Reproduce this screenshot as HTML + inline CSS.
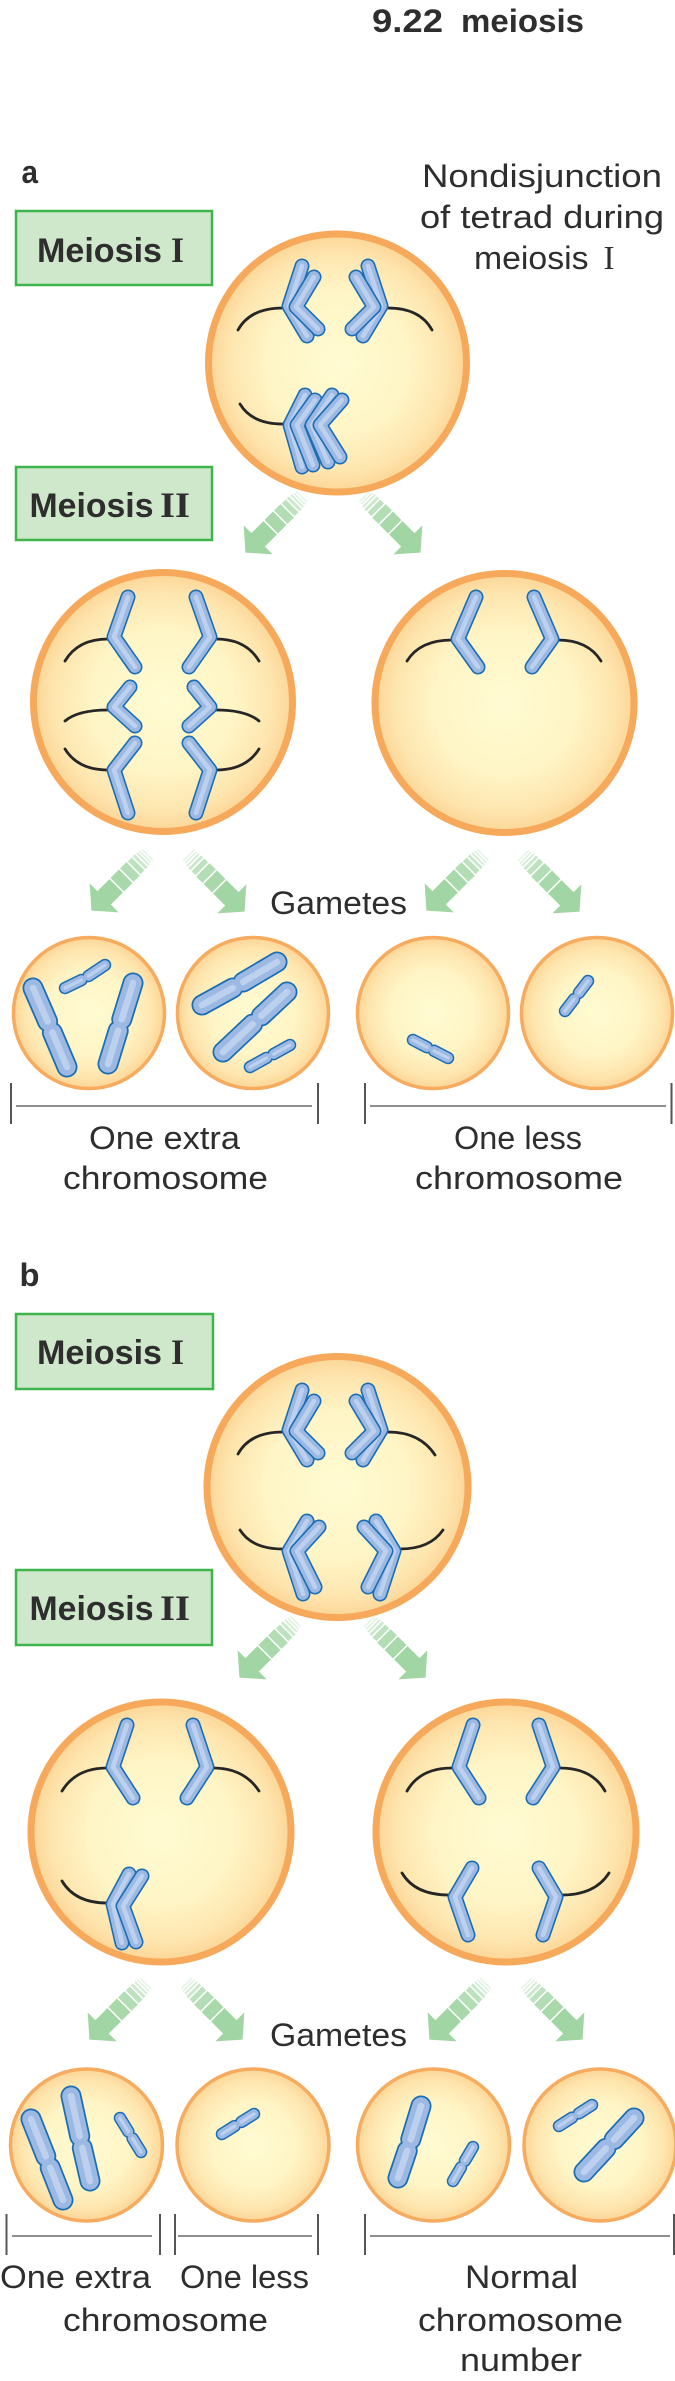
<!DOCTYPE html>
<html><head><meta charset="utf-8"><title>9.22 meiosis</title>
<style>
html,body{margin:0;padding:0;background:#fff;}
svg{display:block;}
.t{font-family:"Liberation Sans",sans-serif;fill:#2e2e2e;}
.b{font-weight:bold;}
.sf{font-family:"Liberation Serif",serif;fill:#2e2e2e;font-weight:bold;}
.sp{fill:none;stroke:#262626;stroke-width:2.8;stroke-linecap:round;}
.co{fill:none;stroke:#1b6db4;stroke-width:15;stroke-linecap:round;stroke-linejoin:round;}
.ci{fill:none;stroke:#9cb9e4;stroke-width:11.8;stroke-linecap:round;stroke-linejoin:round;}
.ch{fill:none;stroke:#bdd1ef;stroke-width:4.5;stroke-linecap:round;stroke-linejoin:round;}
.bo{fill:none;stroke:#1b6db4;stroke-width:21;stroke-linecap:round;}
.bi{fill:none;stroke:#9cb9e4;stroke-width:17.5;stroke-linecap:round;}
.bh{fill:none;stroke:#bdd1ef;stroke-width:6.5;stroke-linecap:round;}
.so{fill:none;stroke:#1b6db4;stroke-width:12.5;stroke-linecap:round;}
.si{fill:none;stroke:#9cb9e4;stroke-width:9.5;stroke-linecap:round;}
.sh{fill:none;stroke:#bdd1ef;stroke-width:3.2;stroke-linecap:round;}
.cell{fill:url(#cellg);stroke:#f7a95b;stroke-width:7;}
.gam{fill:url(#cellg);stroke:#f6ab5f;stroke-width:3.5;}
.box{fill:#cfe8cb;stroke:#3db54a;stroke-width:2.5;}
.tk{stroke:#555;stroke-width:2;}
.hl{stroke:#6a6a6a;stroke-width:1.6;}
</style></head>
<body>
<svg width="675" height="2381" viewBox="0 0 675 2381" xmlns="http://www.w3.org/2000/svg" xmlns:xlink="http://www.w3.org/1999/xlink">
<defs>
<radialGradient id="cellg" cx="50%" cy="50%" r="50%">
<stop offset="0" stop-color="#fffbd2"/>
<stop offset="0.55" stop-color="#fff5c6"/>
<stop offset="0.85" stop-color="#fee5ae"/>
<stop offset="1" stop-color="#fcd596"/>
</radialGradient>
<g id="arw" fill="#a2d5a4">
<polygon points="62,-20.5 80,0 62,20.5"/>
<rect x="45" y="-9.5" width="17.5" height="19"/>
<rect x="31.5" y="-9.5" width="12" height="19" opacity="0.92"/>
<rect x="21" y="-9.5" width="9" height="19" opacity="0.82"/>
<rect x="14" y="-9" width="5.5" height="18" opacity="0.7"/>
<rect x="9.5" y="-9" width="3" height="18" opacity="0.55"/>
<rect x="6" y="-8.5" width="2" height="17" opacity="0.45"/>
<rect x="3" y="-8" width="1.5" height="16" opacity="0.35"/>
<rect x="0" y="-7.5" width="1.5" height="15" opacity="0.28"/>
</g>
<!-- chromatid paths -->
<path id="a1" d="M302,266 L289,306 L307,336"/>
<path id="a2" d="M314,277 L296,307 L318,329"/>
<path id="a3" d="M368,266 L381,306 L363,336"/>
<path id="a4" d="M356,277 L374,307 L352,329"/>
<path id="a5" d="M305,395 L290,425 L302,467"/>
<path id="a6" d="M315,400 L297,425 L313,465"/>
<path id="a7" d="M332,395 L312,425 L328,462"/>
<path id="a8" d="M342,400 L320,425 L340,457"/>
<path id="b1" d="M128,597 L114,637 L135,667"/>
<path id="b2" d="M130,687 L114,707 L135,726"/>
<path id="b3" d="M135,743 L114,770 L128,813"/>
<path id="b4" d="M196,597 L210,637 L189,667"/>
<path id="b5" d="M194,687 L210,707 L189,726"/>
<path id="b6" d="M189,743 L210,770 L196,813"/>
<path id="c1" d="M476,597 L458,639 L478,667"/>
<path id="c2" d="M534,597 L552,639 L532,667"/>
<path id="d1" d="M302,1390 L289,1430 L307,1460"/>
<path id="d2" d="M314,1401 L296,1431 L318,1453"/>
<path id="d3" d="M368,1390 L381,1430 L363,1460"/>
<path id="d4" d="M356,1401 L374,1431 L352,1453"/>
<path id="d5" d="M307,1521 L289,1551 L303,1594"/>
<path id="d6" d="M319,1527 L297,1551 L315,1587"/>
<path id="d7" d="M376,1521 L394,1551 L380,1594"/>
<path id="d8" d="M364,1527 L386,1551 L368,1587"/>
<path id="e1" d="M127,1725 L113,1767 L133,1798"/>
<path id="e2" d="M193,1725 L207,1767 L187,1798"/>
<path id="e3" d="M129,1874 L113,1904 L122,1943"/>
<path id="e4" d="M142,1876 L123,1906 L136,1942"/>
<path id="f1" d="M473,1725 L459,1767 L479,1798"/>
<path id="f2" d="M539,1725 L553,1767 L533,1798"/>
<path id="f3" d="M472,1868 L455,1897 L468,1935"/>
<path id="f4" d="M539,1868 L556,1897 L543,1935"/>
<!-- gamete chromosomes -->
<path id="g1" d="M33,988 L47.6,1021.5 M52.4,1032.5 L67,1067"/>
<path id="g2" d="M133,983 L121.8,1019.3 M118.2,1030.7 L108,1064"/>
<path id="g3" d="M65,988 L81.5,980 M88.5,976 L105,965"/>
<path id="g4" d="M202,1005 L232.8,988 M243.2,982 L277,962"/>
<path id="g5" d="M223,1052 L252.6,1024.1 M261.4,1015.9 L287,992"/>
<path id="g6" d="M250,1067 L266.5,1057.9 M273.5,1054.1 L290,1045"/>
<path id="g7" d="M413,1040 L426.9,1047.2 M434.1,1050.8 L448,1058"/>
<path id="g8" d="M565,1011 L574.1,999.2 M578.9,992.8 L588,981"/>
<path id="h1" d="M31,2119 L45.8,2156.4 M50.2,2167.6 L63,2200"/>
<path id="h2" d="M71,2096 L79.7,2136.1 M82.3,2147.9 L90,2181"/>
<path id="h3" d="M120,2118 L128.4,2131.6 M132.6,2138.4 L141,2152"/>
<path id="h4" d="M222,2134 L234.6,2126.1 M241.4,2121.9 L254,2114"/>
<path id="h5" d="M421,2106 L410.8,2139.3 M407.2,2150.7 L398,2178"/>
<path id="h6" d="M473,2147 L465,2160.6 M461,2167.4 L453,2181"/>
<path id="h7" d="M559,2126 L572.1,2117.6 M578.9,2113.4 L592,2105"/>
<path id="h8" d="M634,2118 L614.1,2139.6 M605.9,2148.4 L584,2172"/>
</defs>

<!-- Title -->
<text class="t b" x="372" y="32" font-size="32" textLength="71" lengthAdjust="spacingAndGlyphs">9.22</text>
<text class="t b" x="461" y="32" font-size="32" textLength="123" lengthAdjust="spacingAndGlyphs">meiosis</text>

<!-- ================= PART A ================= -->
<text class="t b" x="21.5" y="183" font-size="32" textLength="16.5" lengthAdjust="spacingAndGlyphs">a</text>
<text class="t" x="422" y="187" font-size="32" textLength="240" lengthAdjust="spacingAndGlyphs">Nondisjunction</text>
<text class="t" x="420" y="228" font-size="32" textLength="244" lengthAdjust="spacingAndGlyphs">of tetrad during</text>
<text class="t" x="474" y="269" font-size="32" textLength="114.5" lengthAdjust="spacingAndGlyphs">meiosis</text>
<text class="sf" x="603.5" y="269" font-size="34" textLength="11" lengthAdjust="spacingAndGlyphs" style="font-weight:normal">I</text>

<rect class="box" x="16" y="211" width="196" height="74"/>
<text class="t b" x="37" y="262" font-size="34" textLength="125" lengthAdjust="spacingAndGlyphs">Meiosis</text>
<text class="sf" x="171" y="262" font-size="36" textLength="13" lengthAdjust="spacingAndGlyphs">I</text>

<rect class="box" x="16" y="467" width="196" height="73"/>
<text class="t b" x="29.5" y="517" font-size="34" textLength="124" lengthAdjust="spacingAndGlyphs">Meiosis</text>
<text class="sf" x="160" y="517" font-size="36" textLength="30" lengthAdjust="spacingAndGlyphs">II</text>

<!-- cell A1 -->
<circle class="cell" cx="337.5" cy="363" r="129"/>
<path class="sp" d="M238,330 Q250,308 283,308"/>
<path class="sp" d="M388,308 Q420,308 432,330"/>
<path class="sp" d="M240,404 Q252,424 283,424"/>
<use href="#a1" class="co"/><use href="#a1" class="ci"/><use href="#a1" class="ch"/>
<use href="#a2" class="co"/><use href="#a2" class="ci"/><use href="#a2" class="ch"/>
<use href="#a3" class="co"/><use href="#a3" class="ci"/><use href="#a3" class="ch"/>
<use href="#a4" class="co"/><use href="#a4" class="ci"/><use href="#a4" class="ch"/>
<use href="#a5" class="co"/><use href="#a5" class="ci"/><use href="#a5" class="ch"/>
<use href="#a6" class="co"/><use href="#a6" class="ci"/><use href="#a6" class="ch"/>
<use href="#a7" class="co"/><use href="#a7" class="ci"/><use href="#a7" class="ch"/>
<use href="#a8" class="co"/><use href="#a8" class="ci"/><use href="#a8" class="ch"/>

<use href="#arw" transform="translate(302,496) rotate(135)"/>
<use href="#arw" transform="translate(364,496) rotate(45)"/>

<!-- cell A2L -->
<circle class="cell" cx="163" cy="702" r="129.5"/>
<path class="sp" d="M65,661 Q78,639 108,639"/>
<path class="sp" d="M216,639 Q246,639 259,661"/>
<path class="sp" d="M65,721 Q78,710 108,710"/>
<path class="sp" d="M216,710 Q246,710 259,721"/>
<path class="sp" d="M65,749 Q78,770 108,770"/>
<path class="sp" d="M216,770 Q246,770 259,749"/>
<use href="#b1" class="co"/><use href="#b1" class="ci"/><use href="#b1" class="ch"/>
<use href="#b2" class="co"/><use href="#b2" class="ci"/><use href="#b2" class="ch"/>
<use href="#b3" class="co"/><use href="#b3" class="ci"/><use href="#b3" class="ch"/>
<use href="#b4" class="co"/><use href="#b4" class="ci"/><use href="#b4" class="ch"/>
<use href="#b5" class="co"/><use href="#b5" class="ci"/><use href="#b5" class="ch"/>
<use href="#b6" class="co"/><use href="#b6" class="ci"/><use href="#b6" class="ch"/>

<!-- cell A2R -->
<circle class="cell" cx="504.5" cy="703" r="129.5"/>
<path class="sp" d="M407,661 Q420,640 452,640"/>
<path class="sp" d="M558,640 Q588,640 601,661"/>
<use href="#c1" class="co"/><use href="#c1" class="ci"/><use href="#c1" class="ch"/>
<use href="#c2" class="co"/><use href="#c2" class="ci"/><use href="#c2" class="ch"/>

<use href="#arw" transform="translate(148,854) rotate(135)"/>
<use href="#arw" transform="translate(188,855) rotate(45)"/>
<use href="#arw" transform="translate(483,854) rotate(135)"/>
<use href="#arw" transform="translate(523,855) rotate(45)"/>
<text class="t" x="270" y="914" font-size="32" textLength="137" lengthAdjust="spacingAndGlyphs">Gametes</text>

<!-- gametes A -->
<circle class="gam" cx="89" cy="1013" r="75.5"/>
<circle class="gam" cx="253" cy="1013" r="75.5"/>
<circle class="gam" cx="433" cy="1013" r="75.5"/>
<circle class="gam" cx="597" cy="1013" r="75.5"/>
<use href="#g1" class="bo"/><use href="#g1" class="bi"/><use href="#g1" class="bh"/>
<use href="#g2" class="bo"/><use href="#g2" class="bi"/><use href="#g2" class="bh"/>
<use href="#g3" class="so"/><use href="#g3" class="si"/><use href="#g3" class="sh"/>
<use href="#g4" class="bo"/><use href="#g4" class="bi"/><use href="#g4" class="bh"/>
<use href="#g5" class="bo"/><use href="#g5" class="bi"/><use href="#g5" class="bh"/>
<use href="#g6" class="so"/><use href="#g6" class="si"/><use href="#g6" class="sh"/>
<use href="#g7" class="so"/><use href="#g7" class="si"/><use href="#g7" class="sh"/>
<use href="#g8" class="so"/><use href="#g8" class="si"/><use href="#g8" class="sh"/>

<!-- brackets A -->
<line class="tk" x1="11" y1="1083" x2="11" y2="1124"/>
<line class="tk" x1="318" y1="1083" x2="318" y2="1124"/>
<line class="hl" x1="16" y1="1106" x2="312" y2="1106"/>
<line class="tk" x1="365" y1="1083" x2="365" y2="1124"/>
<line class="tk" x1="671.5" y1="1083" x2="671.5" y2="1124"/>
<line class="hl" x1="370" y1="1106" x2="666" y2="1106"/>
<text class="t" x="89" y="1149" font-size="32" textLength="151" lengthAdjust="spacingAndGlyphs">One extra</text>
<text class="t" x="63" y="1189" font-size="32" textLength="205" lengthAdjust="spacingAndGlyphs">chromosome</text>
<text class="t" x="454" y="1149" font-size="32" textLength="128" lengthAdjust="spacingAndGlyphs">One less</text>
<text class="t" x="415" y="1189" font-size="32" textLength="208" lengthAdjust="spacingAndGlyphs">chromosome</text>

<!-- ================= PART B ================= -->
<text class="t b" x="19.5" y="1286" font-size="32" textLength="20" lengthAdjust="spacingAndGlyphs">b</text>

<rect class="box" x="16" y="1314" width="197" height="75"/>
<text class="t b" x="37" y="1364" font-size="34" textLength="125" lengthAdjust="spacingAndGlyphs">Meiosis</text>
<text class="sf" x="171" y="1364" font-size="36" textLength="13" lengthAdjust="spacingAndGlyphs">I</text>

<rect class="box" x="16" y="1570" width="196" height="75"/>
<text class="t b" x="29.5" y="1620" font-size="34" textLength="124" lengthAdjust="spacingAndGlyphs">Meiosis</text>
<text class="sf" x="160" y="1620" font-size="36" textLength="30" lengthAdjust="spacingAndGlyphs">II</text>

<!-- cell B1 -->
<circle class="cell" cx="337.5" cy="1487" r="130.5"/>
<path class="sp" d="M238,1454 Q250,1432 283,1432"/>
<path class="sp" d="M388,1432 Q420,1432 435,1455"/>
<path class="sp" d="M240,1530 Q252,1549 283,1549"/>
<path class="sp" d="M400,1549 Q430,1549 443,1530"/>
<use href="#d1" class="co"/><use href="#d1" class="ci"/><use href="#d1" class="ch"/>
<use href="#d2" class="co"/><use href="#d2" class="ci"/><use href="#d2" class="ch"/>
<use href="#d3" class="co"/><use href="#d3" class="ci"/><use href="#d3" class="ch"/>
<use href="#d4" class="co"/><use href="#d4" class="ci"/><use href="#d4" class="ch"/>
<use href="#d5" class="co"/><use href="#d5" class="ci"/><use href="#d5" class="ch"/>
<use href="#d6" class="co"/><use href="#d6" class="ci"/><use href="#d6" class="ch"/>
<use href="#d7" class="co"/><use href="#d7" class="ci"/><use href="#d7" class="ch"/>
<use href="#d8" class="co"/><use href="#d8" class="ci"/><use href="#d8" class="ch"/>

<use href="#arw" transform="translate(296,1621) rotate(135)"/>
<use href="#arw" transform="translate(369,1621) rotate(45)"/>

<!-- cell B2L -->
<circle class="cell" cx="161" cy="1832" r="130"/>
<path class="sp" d="M62,1791 Q76,1768 107,1768"/>
<path class="sp" d="M213,1768 Q244,1768 259,1791"/>
<path class="sp" d="M62,1881 Q75,1903 107,1903"/>
<use href="#e1" class="co"/><use href="#e1" class="ci"/><use href="#e1" class="ch"/>
<use href="#e2" class="co"/><use href="#e2" class="ci"/><use href="#e2" class="ch"/>
<use href="#e3" class="co"/><use href="#e3" class="ci"/><use href="#e3" class="ch"/>
<use href="#e4" class="co"/><use href="#e4" class="ci"/><use href="#e4" class="ch"/>

<!-- cell B2R -->
<circle class="cell" cx="506" cy="1832" r="130"/>
<path class="sp" d="M407,1791 Q420,1768 452,1768"/>
<path class="sp" d="M560,1768 Q592,1768 605,1791"/>
<path class="sp" d="M402,1873 Q415,1895 449,1895"/>
<path class="sp" d="M562,1895 Q595,1895 609,1873"/>
<use href="#f1" class="co"/><use href="#f1" class="ci"/><use href="#f1" class="ch"/>
<use href="#f2" class="co"/><use href="#f2" class="ci"/><use href="#f2" class="ch"/>
<use href="#f3" class="co"/><use href="#f3" class="ci"/><use href="#f3" class="ch"/>
<use href="#f4" class="co"/><use href="#f4" class="ci"/><use href="#f4" class="ch"/>

<use href="#arw" transform="translate(146,1983) rotate(135)"/>
<use href="#arw" transform="translate(186,1983) rotate(45)"/>
<use href="#arw" transform="translate(486,1983) rotate(135)"/>
<use href="#arw" transform="translate(526,1983) rotate(45)"/>
<text class="t" x="270" y="2046" font-size="32" textLength="137" lengthAdjust="spacingAndGlyphs">Gametes</text>

<!-- gametes B -->
<circle class="gam" cx="86.5" cy="2145" r="76"/>
<circle class="gam" cx="253" cy="2145" r="76"/>
<circle class="gam" cx="433.5" cy="2145" r="76"/>
<circle class="gam" cx="600" cy="2145" r="76"/>
<use href="#h1" class="bo"/><use href="#h1" class="bi"/><use href="#h1" class="bh"/>
<use href="#h2" class="bo"/><use href="#h2" class="bi"/><use href="#h2" class="bh"/>
<use href="#h3" class="so"/><use href="#h3" class="si"/><use href="#h3" class="sh"/>
<use href="#h4" class="so"/><use href="#h4" class="si"/><use href="#h4" class="sh"/>
<use href="#h5" class="bo"/><use href="#h5" class="bi"/><use href="#h5" class="bh"/>
<use href="#h6" class="so"/><use href="#h6" class="si"/><use href="#h6" class="sh"/>
<use href="#h7" class="so"/><use href="#h7" class="si"/><use href="#h7" class="sh"/>
<use href="#h8" class="bo"/><use href="#h8" class="bi"/><use href="#h8" class="bh"/>

<!-- brackets B -->
<line class="tk" x1="6.5" y1="2214" x2="6.5" y2="2255"/>
<line class="tk" x1="160" y1="2214" x2="160" y2="2255"/>
<line class="hl" x1="12" y1="2236" x2="152" y2="2236"/>
<line class="tk" x1="175" y1="2214" x2="175" y2="2255"/>
<line class="tk" x1="318" y1="2214" x2="318" y2="2255"/>
<line class="hl" x1="178" y1="2236" x2="312" y2="2236"/>
<line class="tk" x1="365" y1="2214" x2="365" y2="2255"/>
<line class="tk" x1="674" y1="2214" x2="674" y2="2255"/>
<line class="hl" x1="370" y1="2236" x2="670" y2="2236"/>
<text class="t" x="0" y="2288" font-size="32" textLength="151" lengthAdjust="spacingAndGlyphs">One extra</text>
<text class="t" x="180" y="2288" font-size="32" textLength="129" lengthAdjust="spacingAndGlyphs">One less</text>
<text class="t" x="63" y="2331" font-size="32" textLength="205" lengthAdjust="spacingAndGlyphs">chromosome</text>
<text class="t" x="465" y="2288" font-size="32" textLength="113" lengthAdjust="spacingAndGlyphs">Normal</text>
<text class="t" x="418" y="2331" font-size="32" textLength="205" lengthAdjust="spacingAndGlyphs">chromosome</text>
<text class="t" x="460" y="2371" font-size="32" textLength="122" lengthAdjust="spacingAndGlyphs">number</text>
</svg>
</body></html>
